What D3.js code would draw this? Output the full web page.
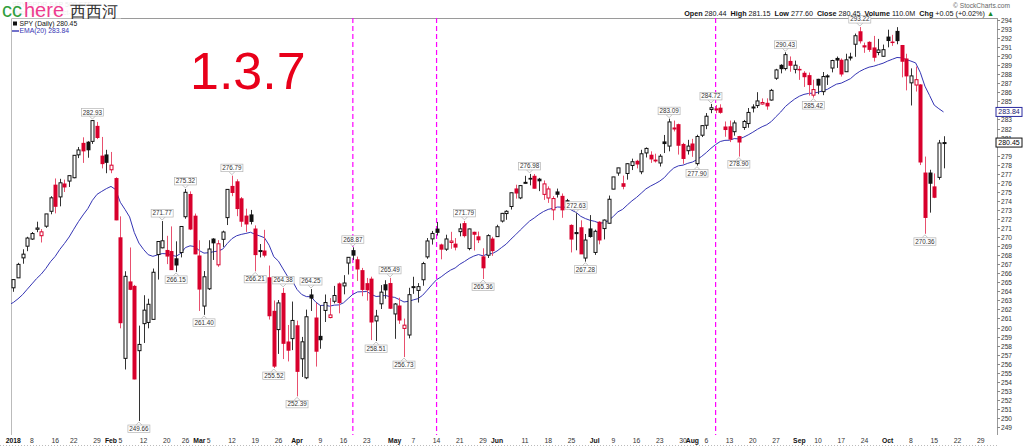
<!DOCTYPE html>
<html><head><meta charset="utf-8">
<script src="https://cdn.jsdelivr.net/npm/d3@7"></script>
<style>
html,body{margin:0;padding:0;background:#fff;overflow:hidden}
svg{display:block}
text{font-family:"Liberation Sans",Arial,sans-serif}
</style>
</head><body>
<svg id="c" width="1024" height="446"></svg>
<script>
// ---------- DATA (SPY daily, dividend-adjusted) ----------
const dates = [
"2018-01-02","2018-01-03","2018-01-04","2018-01-05","2018-01-08","2018-01-09","2018-01-10","2018-01-11","2018-01-12","2018-01-16","2018-01-17","2018-01-18","2018-01-19","2018-01-22","2018-01-23","2018-01-24","2018-01-25","2018-01-26","2018-01-29","2018-01-30","2018-01-31",
"2018-02-01","2018-02-02","2018-02-05","2018-02-06","2018-02-07","2018-02-08","2018-02-09","2018-02-12","2018-02-13","2018-02-14","2018-02-15","2018-02-16","2018-02-20","2018-02-21","2018-02-22","2018-02-23","2018-02-26","2018-02-27","2018-02-28",
"2018-03-01","2018-03-02","2018-03-05","2018-03-06","2018-03-07","2018-03-08","2018-03-09","2018-03-12","2018-03-13","2018-03-14","2018-03-15","2018-03-16","2018-03-19","2018-03-20","2018-03-21","2018-03-22","2018-03-23","2018-03-26","2018-03-27","2018-03-28","2018-03-29",
"2018-04-02","2018-04-03","2018-04-04","2018-04-05","2018-04-06","2018-04-09","2018-04-10","2018-04-11","2018-04-12","2018-04-13","2018-04-16","2018-04-17","2018-04-18","2018-04-19","2018-04-20","2018-04-23","2018-04-24","2018-04-25","2018-04-26","2018-04-27","2018-04-30",
"2018-05-01","2018-05-02","2018-05-03","2018-05-04","2018-05-07","2018-05-08","2018-05-09","2018-05-10","2018-05-11","2018-05-14","2018-05-15","2018-05-16","2018-05-17","2018-05-18","2018-05-21","2018-05-22","2018-05-23","2018-05-24","2018-05-25","2018-05-29","2018-05-30","2018-05-31",
"2018-06-01","2018-06-04","2018-06-05","2018-06-06","2018-06-07","2018-06-08","2018-06-11","2018-06-12","2018-06-13","2018-06-14","2018-06-15","2018-06-18","2018-06-19","2018-06-20","2018-06-21","2018-06-22","2018-06-25","2018-06-26","2018-06-27","2018-06-28","2018-06-29",
"2018-07-02","2018-07-03","2018-07-05","2018-07-06","2018-07-09","2018-07-10","2018-07-11","2018-07-12","2018-07-13","2018-07-16","2018-07-17","2018-07-18","2018-07-19","2018-07-20","2018-07-23","2018-07-24","2018-07-25","2018-07-26","2018-07-27","2018-07-30","2018-07-31",
"2018-08-01","2018-08-02","2018-08-03","2018-08-06","2018-08-07","2018-08-08","2018-08-09","2018-08-10","2018-08-13","2018-08-14","2018-08-15","2018-08-16","2018-08-17","2018-08-20","2018-08-21","2018-08-22","2018-08-23","2018-08-24","2018-08-27","2018-08-28","2018-08-29","2018-08-30","2018-08-31",
"2018-09-04","2018-09-05","2018-09-06","2018-09-07","2018-09-10","2018-09-11","2018-09-12","2018-09-13","2018-09-14","2018-09-17","2018-09-18","2018-09-19","2018-09-20","2018-09-21","2018-09-24","2018-09-25","2018-09-26","2018-09-27","2018-09-28",
"2018-10-01","2018-10-02","2018-10-03","2018-10-04","2018-10-05","2018-10-08","2018-10-09","2018-10-10","2018-10-11","2018-10-12","2018-10-15","2018-10-16","2018-10-17"];

// empty sessions to the right of the last bar
const futureSessions = ["2018-10-18","2018-10-19","2018-10-22","2018-10-23","2018-10-24","2018-10-25","2018-10-26","2018-10-29","2018-10-30","2018-10-31","2018-11-01"];

const opens = [
264.39,265.49,267.70,268.99,269.78,270.86,270.15,271.20,272.85,275.74,
274.44,275.87,276.19,276.56,279.09,280.36,280.49,280.58,282.24,278.95,
279.08,277.44,276.47,269.92,256.59,265.04,264.55,257.44,260.43,260.56,
260.90,268.07,268.81,268.52,268.40,267.60,268.29,272.25,274.71,272.31,
267.91,262.37,264.28,269.78,266.93,269.75,272.15,275.60,276.11,274.23,
272.32,272.45,270.89,268.46,268.46,265.50,261.79,259.77,263.77,258.40,
258.77,260.19,256.54,254.44,263.60,261.05,259.02,261.89,261.10,262.90,
264.82,264.60,267.13,268.50,267.49,266.29,264.85,265.35,260.73,262.62,
264.73,264.86,261.50,262.38,259.90,259.17,264.49,264.10,265.28,267.81,
269.80,270.88,269.13,268.66,269.40,269.22,270.60,271.49,268.73,270.53,
270.03,267.81,267.99,269.78,270.05,271.77,272.60,273.38,275.32,274.33,
276.03,276.49,276.72,276.40,274.72,274.32,273.01,274.99,274.50,274.02,
271.29,270.50,271.03,267.68,270.90,268.30,271.64,270.94,271.53,275.30,
277.08,275.90,277.03,277.91,278.38,277.22,279.30,279.05,278.51,278.19,
280.52,280.06,281.98,282.43,280.24,279.55,280.29,278.12,281.26,282.36,
284.10,284.11,284.25,282.17,282.19,281.65,281.11,282.12,282.55,284.29,
284.54,284.71,284.79,285.15,287.56,288.99,288.63,289.42,288.54,288.54,
288.11,287.85,285.69,287.44,286.08,287.76,288.69,289.75,289.55,288.28,
289.88,291.32,292.70,291.15,291.53,290.91,290.41,289.99,292.11,291.56,
292.74,291.18,289.69,287.05,286.81,286.82,277.08,277.08,275.55,276.60,
280.44];

const highs = [
265.34,267.15,268.65,270.03,270.56,271.70,270.88,272.56,274.52,276.48,
276.44,276.35,276.79,279.04,279.96,281.03,280.60,282.93,282.73,281.07,
279.65,279.41,276.61,272.29,266.22,268.85,264.71,260.21,263.57,263.18,
266.52,269.52,271.77,270.14,271.18,269.53,271.17,275.32,275.05,272.60,
269.65,266.24,269.65,269.87,269.66,270.71,275.27,276.79,276.39,274.43,
273.14,273.00,271.29,269.23,270.80,266.85,262.99,263.04,264.38,260.28,
262.87,260.76,258.96,261.98,264.25,262.72,262.46,263.65,263.25,264.60,
264.98,265.79,267.78,268.87,267.84,266.59,265.48,265.62,261.95,264.69,
265.23,265.49,262.71,263.29,260.99,264.39,265.61,264.91,267.26,269.89,
270.68,271.67,269.27,270.26,270.58,269.89,271.50,271.79,270.93,270.59,
270.61,268.76,270.31,270.03,271.36,272.67,272.97,274.90,275.79,275.76,
276.77,276.98,276.97,276.54,276.26,275.60,274.52,275.36,274.82,274.22,
271.41,272.63,271.85,270.34,272.43,270.82,271.75,271.95,274.59,276.65,
277.65,276.79,278.17,278.67,278.54,279.65,279.91,279.48,279.22,279.17,
281.29,283.09,282.88,282.54,280.42,280.75,280.86,281.31,282.38,283.71,
284.72,284.60,284.68,282.78,282.88,282.89,281.19,282.95,284.27,284.68,
286.02,285.33,285.34,286.38,288.60,289.11,290.43,289.97,289.51,288.90,
288.34,288.19,287.40,287.50,288.25,288.00,289.60,289.96,289.75,290.27,
290.38,292.50,293.22,291.50,291.65,292.24,291.91,291.28,292.93,292.36,
293.21,291.24,290.27,288.65,288.86,286.91,278.90,277.44,277.04,280.74,
281.15];

const lows = [
263.95,265.49,267.05,268.44,269.68,270.54,269.40,271.02,272.52,272.62,
273.40,274.98,275.54,276.50,278.73,278.20,278.77,280.30,280.83,277.59,
277.06,277.06,271.86,259.91,255.36,264.13,254.27,249.66,258.29,259.91,
260.89,265.30,268.76,267.01,266.46,266.15,267.75,272.03,270.77,268.10,
261.83,261.40,264.15,267.47,266.71,268.91,271.33,274.52,272.31,271.13,
270.57,271.40,266.21,267.75,267.76,260.88,255.52,257.08,256.51,256.25,
257.50,252.39,254.53,254.29,261.83,255.68,257.65,260.61,261.02,262.67,
261.57,263.67,265.86,267.46,265.15,263.46,262.97,258.61,258.51,262.05,
263.19,262.05,258.75,260.40,256.73,258.80,263.72,262.76,264.62,267.60,
269.17,270.17,267.54,268.47,268.70,268.53,270.08,269.96,268.54,268.51,
269.34,265.36,267.69,267.92,270.05,271.61,271.91,273.04,274.25,274.19,
275.92,275.72,275.36,275.08,274.11,273.78,271.87,274.37,272.13,273.09,
268.30,268.54,268.13,267.28,269.93,268.03,269.20,269.74,271.49,275.29,
276.78,275.28,276.35,277.41,277.59,276.95,278.80,278.20,278.24,277.80,
279.29,279.48,281.68,279.12,278.10,279.12,278.87,277.90,281.06,281.93,
283.70,283.70,283.64,281.09,280.50,281.21,278.90,281.85,282.09,283.78,
284.27,284.64,284.08,285.09,287.38,288.10,288.42,288.28,288.10,287.38,
286.60,285.65,285.42,285.80,285.69,286.82,288.21,288.70,287.75,288.25,
289.52,289.93,291.40,290.37,290.48,289.41,290.10,289.95,290.98,291.14,
291.32,287.66,286.22,284.55,286.09,277.96,270.36,272.70,274.30,276.34,
277.60];

const closes = [
265.30,266.98,268.11,269.89,270.39,271.00,270.58,272.56,274.34,273.40,
276.00,275.54,276.79,279.04,279.63,279.53,279.65,282.88,281.01,278.12,
278.26,277.95,271.90,260.53,265.66,264.22,254.31,258.13,261.92,262.57,
266.11,269.51,269.59,267.90,266.40,266.91,271.17,274.95,270.89,268.14,
264.25,265.61,268.68,269.36,269.26,270.56,275.27,274.93,273.15,271.75,
271.45,271.73,268.06,268.51,268.00,261.30,255.73,262.72,258.25,257.49,
260.78,255.15,258.42,261.19,263.25,257.38,258.65,262.76,261.39,263.54,
262.76,264.92,267.76,268.00,266.47,264.21,264.17,260.61,261.26,263.91,
264.16,262.13,262.60,260.83,260.26,263.63,264.52,264.52,267.07,269.57,
270.40,270.52,268.66,269.79,269.56,268.89,270.91,270.16,270.90,270.31,
269.70,266.60,270.16,268.50,271.14,272.62,272.85,274.90,274.87,275.69,
276.05,276.41,275.40,276.22,275.88,275.32,274.26,274.73,273.01,273.50,
269.78,270.38,268.14,269.67,270.06,270.64,269.68,271.88,274.18,276.65,
277.65,275.61,278.11,278.33,278.08,279.21,279.80,278.64,278.42,278.94,
280.34,282.73,282.06,280.15,278.69,280.06,279.60,281.12,282.32,283.36,
284.30,284.17,283.79,281.89,280.83,282.62,280.51,282.78,283.78,284.38,
285.05,284.88,284.50,286.22,288.48,288.62,290.17,288.99,289.00,288.51,
287.73,286.86,286.31,286.80,287.75,287.82,289.52,289.57,288.03,289.60,
289.91,292.26,291.70,291.02,290.75,289.88,290.69,290.72,291.73,291.56,
291.72,289.44,287.82,287.82,287.40,278.30,272.17,275.95,274.40,280.40,
280.45];

const prevClose2017 = 263.42;   // close before the first bar (for bar colouring)
const emaSeed = 262.5;          // EMA(20) on the last 2017 session, read at the left edge
const emaPeriod = 20;

// labelled highs and lows: session index
const markedHighs = [17,32,37,47,58,64,73,81,97,111,121,141,150,166,182];
const markedLows  = [27,35,41,52,56,61,78,84,101,123,147,156,172,196];

// dashed magenta vertical markers
const markerDates = ["2018-04-18","2018-05-14","2018-08-08"];

// price axis ticks (284 sits under the EMA value tag in the reference)
const priceTicks = [249,250,251,252,253,254,255,256,257,258,259,260,261,262,263,264,265,266,267,268,269,270,
  271,272,273,274,275,276,277,278,279,281,282,283,285,286,287,288,289,290,291,292,293,294];

// x-axis labels: [date, text, isMonth]
const xLabels = [
["2018-01-02","2018",1],["2018-01-08","8",0],["2018-01-16","16",0],["2018-01-22","22",0],["2018-01-29","29",0],
["2018-02-01","Feb",1],["2018-02-05","5",0],["2018-02-12","12",0],["2018-02-20","20",0],["2018-02-26","26",0],
["2018-03-01","Mar",1],["2018-03-05","5",0],["2018-03-12","12",0],["2018-03-19","19",0],["2018-03-26","26",0],
["2018-04-02","Apr",1],["2018-04-09","9",0],["2018-04-16","16",0],["2018-04-23","23",0],
["2018-05-01","May",1],["2018-05-07","7",0],["2018-05-14","14",0],["2018-05-21","21",0],["2018-05-29","29",0],
["2018-06-01","Jun",1],["2018-06-11","11",0],["2018-06-18","18",0],["2018-06-25","25",0],
["2018-07-02","Jul",1],["2018-07-09","9",0],["2018-07-16","16",0],["2018-07-23","23",0],["2018-07-30","30",0],
["2018-08-01","Aug",1],["2018-08-06","6",0],["2018-08-13","13",0],["2018-08-20","20",0],["2018-08-27","27",0],
["2018-09-04","Sep",1],["2018-09-10","10",0],["2018-09-17","17",0],["2018-09-24","24",0],
["2018-10-01","Oct",1],["2018-10-08","8",0],["2018-10-15","15",0],["2018-10-22","22",0],["2018-10-29","29",0]];

const lastValues = {close:"280.45", ema:"283.84"};

// ---------- DRAW ----------
const svg = d3.select("#c");
const W = 1024, H = 446;
const plot = {l:11, r:997, t:18, b:435};
const sessions = dates.concat(futureSessions);
const idx = d => sessions.indexOf(d);

const x = d3.scaleLinear().domain([-0.5, 211.5]).range([plot.l, plot.r]);
const y = d3.scaleLinear().domain([249, 294]).range([427, 20]);

const RED = "#d8002c", BLACK = "#111", REDW = "#e8506e", BLACKW = "#333";

svg.append("rect").attr("width",W).attr("height",H).attr("fill","#fff");

svg.append("defs").append("clipPath").attr("id","pc")
  .append("rect").attr("x",plot.l).attr("y",plot.t).attr("width",plot.r-plot.l).attr("height",plot.b-plot.t);

// frame
svg.append("line").attr("x1",plot.l).attr("x2",plot.r).attr("y1",plot.t+0.5).attr("y2",plot.t+0.5).attr("stroke","#9a9a9a");
svg.append("line").attr("x1",plot.l+0.5).attr("x2",plot.l+0.5).attr("y1",plot.t).attr("y2",plot.b).attr("stroke","#bbb");
svg.append("line").attr("x1",plot.r+0.5).attr("x2",plot.r+0.5).attr("y1",plot.t).attr("y2",plot.b).attr("stroke","#9a9a9a");

// right price axis
const ya = svg.append("g");
priceTicks.forEach(p=>{
  const yy = Math.round(y(p))+0.5;
  ya.append("line").attr("x1",plot.r).attr("x2",plot.r+3).attr("y1",yy).attr("y2",yy).attr("stroke","#888");
  ya.append("text").attr("x",plot.r+4).attr("y",yy).attr("dy","0.35em").attr("font-size",6.6).attr("fill","#333").text(p);
});

// x labels
const xa = svg.append("g");
xLabels.forEach(([d,t,m])=>{
  xa.append("text").attr("x",x(idx(d))).attr("y",443).attr("text-anchor","middle")
    .attr("font-size",6.8).attr("font-weight",m?"bold":"normal").attr("fill",m?"#111":"#333").text(t);
});
svg.append("line").attr("x1",0).attr("x2",plot.r).attr("y1",445.5).attr("y2",445.5)
  .attr("stroke","#bbb").attr("stroke-dasharray","1,2");

// big annotation
svg.append("text").attr("x",190).attr("y",89).attr("font-size",52).attr("fill","#e8001a").text("1.3.7");

const g = svg.append("g").attr("clip-path","url(#pc)");

// markers
markerDates.forEach(d=>{
  const xx = x(idx(d));
  g.append("line").attr("x1",xx).attr("x2",xx).attr("y1",plot.t).attr("y2",plot.b)
   .attr("stroke","#ff00ff").attr("stroke-width",1.2).attr("stroke-dasharray","5,3");
});

// EMA (20) of the closes
const ema = [];
let prev = emaSeed;
closes.forEach(c=>{ prev = prev + (2/(emaPeriod+1))*(c-prev); ema.push(prev); });
const emaPts = [[-1, emaSeed]].concat(ema.map((v,i)=>[i,v]));
g.append("path").datum(emaPts)
  .attr("d", d3.line().x(d=>x(d[0])).y(d=>y(d[1])))
  .attr("fill","none").attr("stroke","#3434b4").attr("stroke-width",1);

// candles
closes.forEach((c,i)=>{
  const o = opens[i], h = highs[i], l = lows[i];
  const pc = i===0 ? prevClose2017 : closes[i-1];
  const up = c >= pc;
  const col = up ? BLACK : RED, wcol = up ? BLACKW : REDW;
  const cx = Math.round(x(i));
  g.append("line").attr("x1",cx+0.5).attr("x2",cx+0.5).attr("y1",y(h)).attr("y2",y(l))
   .attr("stroke",wcol).attr("stroke-width",1);
  const top = y(Math.max(o,c)), bot = y(Math.min(o,c));
  if (c > o) {
    g.append("rect").attr("x",cx-1).attr("y",top).attr("width",3).attr("height",Math.max(bot-top,1))
     .attr("fill","#fff").attr("stroke",col).attr("stroke-width",1);
  } else {
    g.append("rect").attr("x",cx-1.5).attr("y",top-0.5).attr("width",4).attr("height",Math.max(bot-top+1,1.5))
     .attr("fill",col);
  }
});

// high / low labels
function tag(i, v, isHigh){
  const cx = x(i);
  const t = v.toFixed(2);
  const w = 22, hh = 7.5;
  const yv = y(v);
  const by = isHigh ? yv - 4 - hh : yv + 4;
  const gg = svg.append("g");
  const tipY = isHigh ? yv - 1 : yv + 1;
  const baseY = isHigh ? by + hh : by;
  gg.append("path").attr("d",`M${cx-3},${baseY}L${cx},${tipY}L${cx+3},${baseY}`)
    .attr("fill","#fff").attr("stroke","#aaa").attr("stroke-width",0.7);
  gg.append("rect").attr("x",cx-w/2).attr("y",by).attr("width",w).attr("height",hh)
    .attr("fill","#fff").attr("stroke","#b5b5b5").attr("stroke-width",0.7);
  gg.append("text").attr("x",cx).attr("y",by+hh-1.6).attr("text-anchor","middle")
    .attr("font-size",6.3).attr("fill","#333").text(t);
}
markedHighs.forEach(i=>tag(i, highs[i], true));
markedLows.forEach(i=>tag(i, lows[i], false));

// price tags on axis
function priceTag(v, txt, stroke, fill){
  const yy = y(v);
  svg.append("rect").attr("x",plot.r-1).attr("y",yy-4.5).attr("width",26).attr("height",9)
    .attr("fill","#fff").attr("stroke",stroke).attr("stroke-width",1);
  svg.append("text").attr("x",plot.r+12).attr("y",yy).attr("dy","0.36em").attr("text-anchor","middle")
    .attr("font-size",7).attr("fill",fill).text(txt);
}
priceTag(ema[ema.length-1], lastValues.ema, "#2a2aa0", "#1a1a70");
priceTag(closes[closes.length-1], lastValues.close, "#111", "#000");

// legend inside plot
svg.append("rect").attr("x",13).attr("y",21.5).attr("width",4).attr("height",4).attr("fill","#111");
svg.append("text").attr("x",19.5).attr("y",26).attr("font-size",6.8).attr("fill","#111").text("SPY (Daily) 280.45");
svg.append("line").attr("x1",12).attr("x2",19).attr("y1",31).attr("y2",31).attr("stroke","#3434b4").attr("stroke-width",1.4);
svg.append("text").attr("x",19.5).attr("y",33).attr("font-size",6.8).attr("fill","#3434b4").text("EMA(20) 283.84");

// header right
svg.append("text").attr("x",1010).attr("y",8).attr("text-anchor","end").attr("font-size",6.6).attr("fill","#666").text("© StockCharts.com");
const hdr = svg.append("text").attr("x",994).attr("y",16).attr("text-anchor","end").attr("font-size",7.2).attr("fill","#111");
[["Open",1],[" 280.44  ",0],["High",1],[" 281.15  ",0],["Low",1],[" 277.60  ",0],["Close",1],[" 280.45  ",0],
 ["Volume",1],[" 110.0M  ",0],["Chg",1],[" +0.05 (+0.02%) ",0]].forEach(([t,b])=>{
  hdr.append("tspan").attr("font-weight",b?"bold":"normal").attr("xml:space","preserve").text(t);
});
hdr.append("tspan").attr("fill","#1a8a2a").text("▲");

// faint original title under the watermark
svg.append("text").attr("x",12).attr("y",7).attr("font-size",7).attr("fill","#bdbdbd").text("SPY SPDR S&P 500 ETF");
svg.append("text").attr("x",12).attr("y",15).attr("font-size",7).attr("fill","#c8c8c8").text("Nyse Daily 17-Oct-2018");
svg.append("rect").attr("x",0).attr("y",0).attr("width",121).attr("height",18.5).attr("fill","#fff").attr("opacity",0.7);

// watermark
const wm = svg.append("text").attr("x",2).attr("y",17);
wm.append("tspan").attr("font-size",20).attr("fill","#2f9e3e").text("cc");
wm.append("tspan").attr("font-size",20).attr("fill","#ee3b8e").attr("dx",2).text("here");
svg.append("text").attr("x",70).attr("y",17).attr("font-size",16).attr("fill","#333")
  .attr("font-family","'Noto Sans CJK SC',sans-serif").text("西西河");
</script>
</body></html>
